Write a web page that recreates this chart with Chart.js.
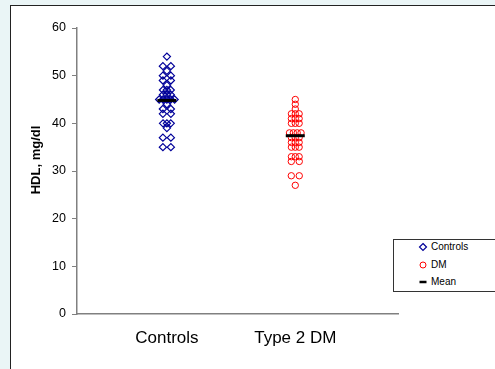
<!DOCTYPE html>
<html>
<head>
<meta charset="utf-8">
<script src="https://cdn.jsdelivr.net/npm/chart.js@4.4.1/dist/chart.umd.min.js"></script>
<style>
  html, body { margin: 0; padding: 0; }
  body { width: 495px; height: 369px; overflow: hidden; background: #eaf5f6; position: relative; font-family: "Liberation Sans", Arial, sans-serif; }
  #panel { position: absolute; left: 10px; top: 5px; width: 520px; height: 400px; background: #fff; border-left: 1px solid #222; border-top: 1px solid #222; }
  #wrap { position: absolute; left: 0; top: 0; width: 495px; height: 369px; }
  #legend { position: absolute; left: 393px; top: 239px; width: 110px; height: 51px; background: #fff; border: 1px solid #333; font-size: 10px; color: #000; }
  .row { position: absolute; left: 24px; height: 12px; line-height: 12px; white-space: nowrap; }
  .row svg { position: absolute; left: 0; top: 1px; }
  .row span { position: absolute; left: 13px; top: 0; }
</style>
</head>
<body>
<div id="panel"></div>
<div id="wrap"><canvas id="hdlChart" width="495" height="369"></canvas></div>
<div id="legend">
  <div class="row" style="top:1px"><svg width="10" height="10"><path d="M5 1.5 L8.5 5 L5 8.5 L1.5 5 Z" fill="none" stroke="#000099" stroke-width="1.2"/></svg><span>Controls</span></div>
  <div class="row" style="top:19px"><svg width="10" height="10"><circle cx="5" cy="5" r="3" fill="none" stroke="#ff0000" stroke-width="1"/></svg><span>DM</span></div>
  <div class="row" style="top:36px"><svg width="10" height="10"><line x1="1.5" y1="5" x2="8.5" y2="5" stroke="#000" stroke-width="2.5"/></svg><span>Mean</span></div>
</div>
<script>
// --- DATA ---
const groups = ['Controls', 'Type 2 DM'];
const controlsHdl = [54, 52, 52, 51, 50, 50, 49, 49, 48, 47, 47, 47, 46, 46, 46, 45, 45, 45, 45, 45,
                     44, 43, 43, 42, 42, 40, 40, 40, 39, 37, 37, 35, 35];
const dmHdl = [45, 44, 43, 42, 42, 42, 41, 41, 41, 40, 40, 40, 38, 38, 38, 38, 37, 37, 37,
               36, 36, 36, 35, 35, 35, 33, 33, 33, 32, 32, 29, 29, 27];
const groupMeans = [44.8, 37.4];
const yTicks = [0, 10, 20, 30, 40, 50, 60];

// Spread equal values sideways so they don't sit on top of each other
function spreadPoints(values, xCenter) {
    const counts = {};
    values.forEach(v => { counts[v] = (counts[v] || 0) + 1; });
    const seen = {};
    return values.map(v => {
        const n = counts[v];
        const k = seen[v] = (seen[v] === undefined ? 0 : seen[v] + 1);
        const gap = n === 2 ? 0.062 : 0.03;
        return { x: xCenter + (k - (n - 1) / 2) * gap, y: v };
    });
}

const FONT = '"Liberation Sans", Arial, sans-serif';

// y axis title drawn a little above the plot centre, like the original
const yTitlePlugin = {
    id: 'yTitle',
    afterDraw(chart) {
        const ctx = chart.ctx;
        ctx.save();
        ctx.translate(36, 160);
        ctx.rotate(-Math.PI / 2);
        ctx.font = 'bold 13px ' + FONT;
        ctx.fillStyle = '#000';
        ctx.textAlign = 'center';
        ctx.textBaseline = 'middle';
        ctx.fillText('HDL, mg/dl', 0, 0);
        ctx.restore();
    }
};

new Chart(document.getElementById('hdlChart'), {
    type: 'scatter',
    data: {
        datasets: [
            {
                label: 'Mean',
                data: groupMeans.map((m, i) => ({ x: i + 1, y: m })),
                pointStyle: 'line',
                pointRadius: 9.5,
                borderColor: '#000',
                borderWidth: 3,
                order: 0
            },
            {
                label: 'Controls',
                data: spreadPoints(controlsHdl, 1),
                pointStyle: 'rectRot',
                pointRadius: 3.6,
                borderColor: '#000099',
                backgroundColor: 'rgba(0,0,0,0)',
                borderWidth: 1.2,
                order: 1
            },
            {
                label: 'DM',
                data: spreadPoints(dmHdl, 2),
                pointStyle: 'circle',
                pointRadius: 3.2,
                borderColor: '#ff0000',
                backgroundColor: 'rgba(0,0,0,0)',
                borderWidth: 1,
                order: 1
            }
        ]
    },
    options: {
        responsive: false,
        animation: false,
        events: [],
        layout: { padding: { left: 0, top: 28, right: 97, bottom: 0 } },
        plugins: {
            legend: { display: false },
            tooltip: { enabled: false }
        },
        scales: {
            x: {
                type: 'linear',
                min: 0.3,
                max: 2.8,
                afterBuildTicks: (scale) => { scale.ticks = groups.map((g, i) => ({ value: i + 1 })); },
                afterFit: (scale) => { scale.height = 55; },
                grid: { display: false },
                border: { color: '#808080', width: 1.5 },
                ticks: {
                    callback: (v) => groups[v - 1],
                    font: { family: FONT, size: 17 },
                    color: '#000',
                    padding: 6,
                    maxRotation: 0,
                    autoSkip: false
                }
            },
            y: {
                min: 0,
                max: 60,
                afterBuildTicks: (scale) => { scale.ticks = yTicks.map(v => ({ value: v })); },
                afterFit: (scale) => { scale.width = 77; },
                grid: { drawOnChartArea: false, drawTicks: true, tickLength: 5, color: '#808080', lineWidth: 1 },
                border: { color: '#808080', width: 1.5 },
                ticks: {
                    font: { family: FONT, size: 12.5 },
                    color: '#000',
                    padding: 6
                }
            }
        }
    },
    plugins: [yTitlePlugin]
});
</script>
</body>
</html>
